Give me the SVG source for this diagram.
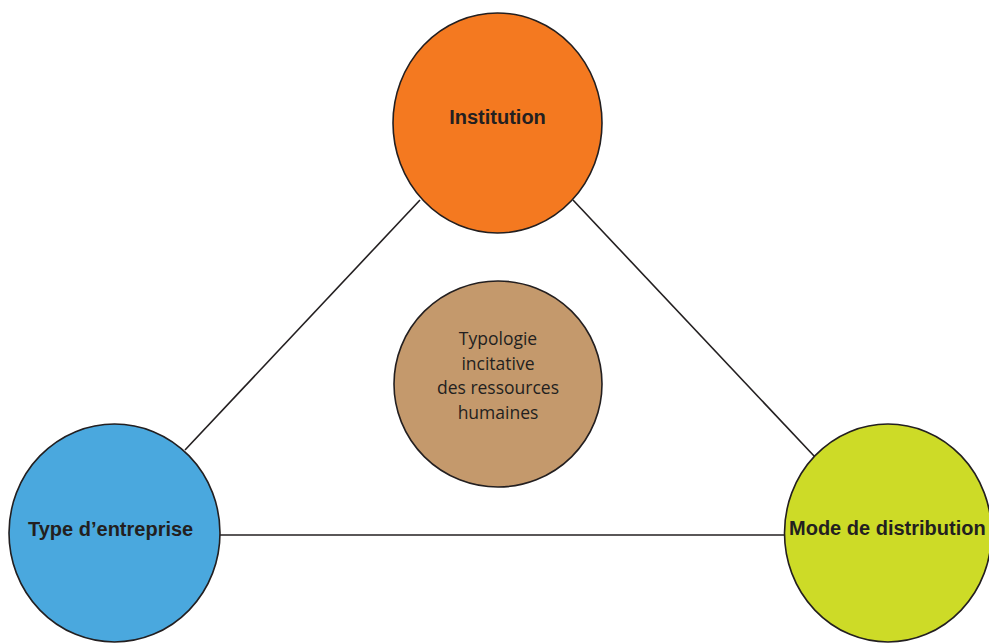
<svg xmlns="http://www.w3.org/2000/svg" width="989" height="644" viewBox="0 0 989 644">
<style>
.node{stroke:#231f20;stroke-width:1.6}
.edge{stroke:#231f20;stroke-width:1.6;fill:none}
.lbl{font-family:"Liberation Sans",Arial,sans-serif;font-weight:bold;font-size:20px;fill:#231f20}
.mid{font-family:"Open Sans","Liberation Sans",sans-serif;font-size:17.5px;fill:#231f20;text-anchor:middle}
</style>
<rect width="989" height="644" fill="#ffffff"/>
<g id="connectors">
<line class="edge" x1="185" y1="450" x2="420" y2="200"/>
<line class="edge" x1="573" y1="200" x2="815" y2="457"/>
<line class="edge" x1="220" y1="535" x2="785" y2="535"/>
</g>
<g id="institution">
<ellipse class="node" cx="497.5" cy="123" rx="104.5" ry="110" fill="#f47920"/>
<text class="lbl" x="497.5" y="124" text-anchor="middle">Institution</text>
</g>
<g id="typologie">
<ellipse class="node" cx="498" cy="384" rx="104" ry="103" fill="#c4996c"/>
<text class="mid" x="498" y="345">Typologie</text>
<text class="mid" x="498" y="370">incitative</text>
<text class="mid" x="498" y="394">des ressources</text>
<text class="mid" x="498" y="419">humaines</text>
</g>
<g id="type-entreprise">
<ellipse class="node" cx="114.5" cy="533" rx="105.5" ry="109" fill="#4aa8de"/>
<text class="lbl" x="28" y="536">Type d’entreprise</text>
</g>
<g id="mode-distribution">
<ellipse class="node" cx="888" cy="533" rx="103.5" ry="109" fill="#cddb27"/>
<text class="lbl" x="789" y="535">Mode de distribution</text>
</g>
</svg>
